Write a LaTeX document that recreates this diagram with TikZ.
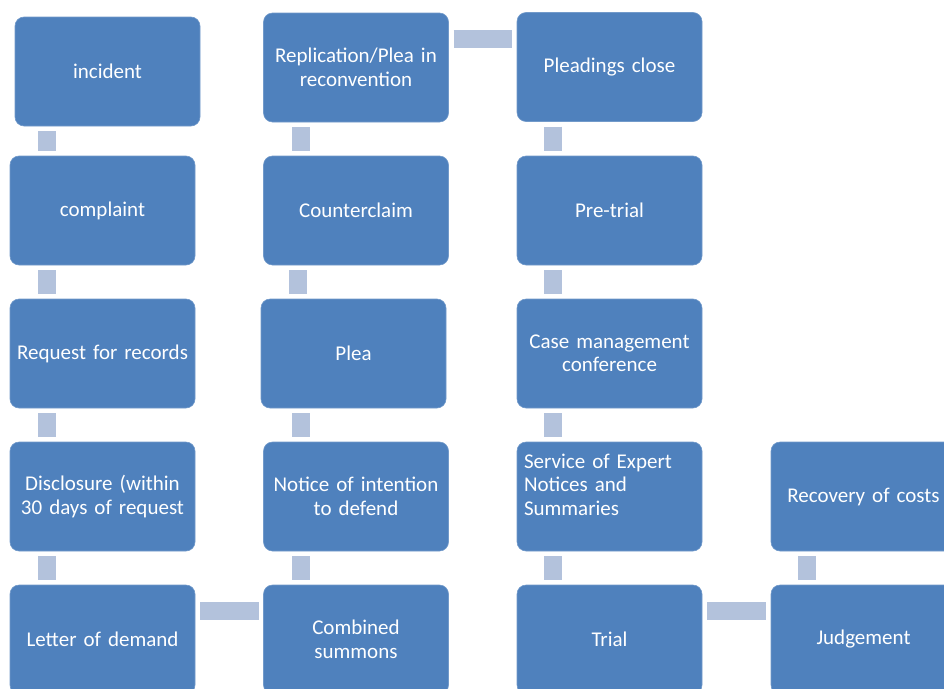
\documentclass[tikz,border=0pt]{standalone}
\usepackage{fontspec}
\setmainfont{Carlito}
\definecolor{boxblue}{RGB}{79,129,189}
\definecolor{linkblue}{RGB}{179,194,220}
\tikzset{
	stage/.style={rectangle,rounded corners=9pt,fill=boxblue,draw=boxblue!80!white,line width=0.6pt,
		minimum width=185pt,minimum height=109pt,outer sep=0pt,inner xsep=5pt,text width=175pt,
		align=center,text=white,font=\fontsize{21}{23.5}\selectfont},
	vlink/.style={draw=linkblue,line width=18pt,shorten <=5pt,shorten >=5pt},
	hlink/.style={vlink}
}
\begin{document}
\begin{tikzpicture}[x=1pt,y=-1pt]
	\useasboundingbox (0,0) rectangle (944,688) ;
	\clip (0,0) rectangle (944,688) ;
	\node[stage] (incident) at (107.5,71.5) {incident} ;
	\node[stage] (complaint) at (102.5,210.5) {complaint} ;
	\node[stage] (request) at (102.5,353.5) {Request for records} ;
	\node[stage] (disclosure) at (102.5,496.5) {Disclosure (within\\30 days of request} ;
	\node[stage] (demand) at (102.5,639.5) {Letter of demand} ;
	\node[stage] (replication) at (356,67.5) {Replication/Plea in\\reconvention} ;
	\node[stage] (counterclaim) at (356,210.5) {Counterclaim} ;
	\node[stage] (plea) at (353.5,353.5) {Plea} ;
	\node[stage] (notice) at (356,496.5) {Notice of intention\\to defend} ;
	\node[stage] (summons) at (356,639.5) {Combined\\summons} ;
	\node[stage] (close) at (609.5,67) {Pleadings close} ;
	\node[stage] (pretrial) at (609.5,210.5) {Pre-trial} ;
	\node[stage] (conference) at (609.5,353.5) {Case management\\conference} ;
	\node[stage,align=left,inner xsep=7pt,text width=171pt] (expert) at (609.5,496.5) {Service of Expert\\Notices and\\Summaries\\\mbox{}} ;
	\node[stage] (trial) at (609.5,639.5) {Trial} ;
	\node[stage] (costs) at (863.5,496.5) {Recovery of costs} ;
	\node[stage] (judgement) at (863.5,639.5) {Judgement} ;
	% links down the columns
	\draw[vlink] ([xshift=37pt]complaint.north west |- incident.south) -- ([xshift=37pt]complaint.north west) ;
	\draw[vlink] ([xshift=37pt]request.north west |- complaint.south) -- ([xshift=37pt]request.north west) ;
	\draw[vlink] ([xshift=37pt]disclosure.north west |- request.south) -- ([xshift=37pt]disclosure.north west) ;
	\draw[vlink] ([xshift=37pt]demand.north west |- disclosure.south) -- ([xshift=37pt]demand.north west) ;
	\draw[vlink] ([xshift=37pt]counterclaim.north west |- replication.south) -- ([xshift=37pt]counterclaim.north west) ;
	\draw[vlink] ([xshift=37pt]plea.north west |- counterclaim.south) -- ([xshift=37pt]plea.north west) ;
	\draw[vlink] ([xshift=37pt]notice.north west |- plea.south) -- ([xshift=37pt]notice.north west) ;
	\draw[vlink] ([xshift=37pt]summons.north west |- notice.south) -- ([xshift=37pt]summons.north west) ;
	\draw[vlink] ([xshift=36pt]pretrial.north west |- close.south) -- ([xshift=36pt]pretrial.north west) ;
	\draw[vlink] ([xshift=36pt]conference.north west |- pretrial.south) -- ([xshift=36pt]conference.north west) ;
	\draw[vlink] ([xshift=36pt]expert.north west |- conference.south) -- ([xshift=36pt]expert.north west) ;
	\draw[vlink] ([xshift=36pt]trial.north west |- expert.south) -- ([xshift=36pt]trial.north west) ;
	\draw[vlink] ([xshift=36pt]judgement.north west |- costs.south) -- ([xshift=36pt]judgement.north west) ;
	% links across
	\draw[hlink] ([yshift=-26pt]demand.north east) -- ([yshift=-26pt]demand.north east -| summons.west) ;
	\draw[hlink] ([yshift=-26pt]replication.north east) -- ([yshift=-26pt]replication.north east -| close.west) ;
	\draw[hlink] ([yshift=-26pt]trial.north east) -- ([yshift=-26pt]trial.north east -| judgement.west) ;
\end{tikzpicture}
\end{document}
